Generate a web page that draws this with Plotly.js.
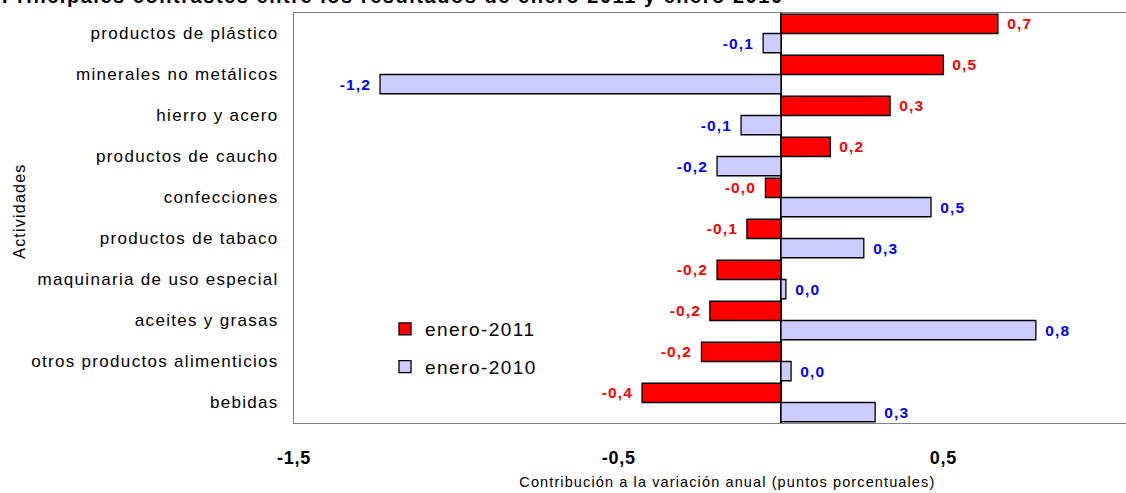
<!DOCTYPE html>
<html>
<head>
<meta charset="utf-8">
<script src="https://cdn.plot.ly/plotly-3.0.1.min.js"></script>
<style>
  html, body { margin: 0; padding: 0; background: #fff; }
  #chart { width: 1126px; height: 493px; }
  #chart text { letter-spacing: 0.077em; }
  #chart .xtick text { letter-spacing: 0.04em; }
  #chart .legend .scrollbox { clip-path: none !important; }
</style>
</head>
<body>
<div id="chart"></div>
<script>
// ---- data ----
const categories = [
  'productos de plástico',
  'minerales no metálicos',
  'hierro y acero',
  'productos de caucho',
  'confecciones',
  'productos de tabaco',
  'maquinaria de uso especial',
  'aceites y grasas',
  'otros productos alimenticios',
  'bebidas'
];
const enero2011 = [0.668, 0.50, 0.336, 0.152, -0.048, -0.105, -0.197, -0.219, -0.245, -0.428];
const enero2010 = [-0.055, -1.235, -0.123, -0.197, 0.462, 0.255, 0.015, 0.785, 0.031, 0.29];
const seriesNames = ['enero-2011', 'enero-2010'];
const xTickVals = [-1.5, -0.5, 0.5];
const xTickText = ['-1,5', '-0,5', '0,5'];
const titleText = 'Principales contrastes entre los resultados de enero 2011 y enero 2010';
const xTitle = 'Contribución a la variación anual (puntos porcentuales)';
const yTitle = 'Actividades';

// ---- styling ----
const FONT = 'Liberation Sans, Arial, sans-serif';
const RED = '#ff0000', LAV = '#ccccff', BLUE = '#0000ff', GRAY = '#808080';
const W = 1126, H = 493;
const M = {l: 294, r: 0, t: 13, b: 70};
const plotW = W - M.l - M.r, plotH = H - M.t - M.b;
const xRange = [-1.5, 1.0626];
const bargap = 0.06;
const px2paperX = p => (p - M.l) / plotW;
const px2paperY = p => (H - M.b - p) / plotH;
const fmt = v => v.toFixed(1).replace('.', ',');

const traces = [
  {type: 'bar', orientation: 'h', name: seriesNames[0], y: categories, x: enero2011,
   legendgroup: 'a', hoverinfo: 'skip',
   marker: {color: RED, line: {color: '#000', width: 1.3}}},
  {type: 'bar', orientation: 'h', name: seriesNames[1], y: categories, x: enero2010,
   legendgroup: 'b', hoverinfo: 'skip',
   marker: {color: LAV, line: {color: '#000', width: 1.3}}}
];

// half bar thickness in px for label vertical placement
const catPx = plotH / categories.length;
const barShift = catPx * (1 - bargap) / 4;

const annotations = [];
function addLabels(vals, color, sign) {
  vals.forEach((v, i) => {
    annotations.push({
      x: v, y: i, xref: 'x', yref: 'y', showarrow: false,
      text: fmt(v),
      xanchor: v < 0 ? 'right' : 'left',
      yanchor: 'middle',
      xshift: v < 0 ? -9 : 9,
      yshift: sign * barShift,
      font: {family: FONT, size: 15.5, color: color, weight: 'bold'}
    });
  });
}
addLabels(enero2011, RED, 1);
addLabels(enero2010, BLUE, -1);

annotations.push({
  text: titleText, xref: 'paper', yref: 'paper',
  x: px2paperX(393), y: 1, xanchor: 'center', yanchor: 'bottom', yshift: 3.5,
  showarrow: false, font: {family: FONT, size: 20, color: '#000', weight: 'bold'}
});
annotations.push({
  text: yTitle, xref: 'paper', yref: 'paper', textangle: -90,
  x: px2paperX(19), y: px2paperY(211), xanchor: 'center', yanchor: 'middle',
  showarrow: false, font: {family: FONT, size: 16, color: '#000'}
});
annotations.push({
  text: xTitle, xref: 'paper', yref: 'paper',
  x: px2paperX(727), y: px2paperY(482), xanchor: 'center', yanchor: 'middle',
  showarrow: false, font: {family: FONT, size: 14.5, color: '#000'}
});

const zeroFrac = (0 - xRange[0]) / (xRange[1] - xRange[0]);
const boundaries = categories.map((c, i) => i + 0.5);

const layout = {
  width: W, height: H,
  margin: {l: M.l, r: M.r, t: M.t, b: M.b, pad: 0},
  paper_bgcolor: '#fff', plot_bgcolor: '#fff',
  barmode: 'group', bargap: bargap, bargroupgap: 0,
  separators: ',.',
  showlegend: true,
  legend: {
    x: px2paperX(385), xanchor: 'left',
    y: px2paperY(310), yanchor: 'top',
    font: {family: FONT, size: 19, color: '#000'},
    traceorder: 'grouped', tracegroupgap: 10,
    bgcolor: 'rgba(0,0,0,0)', borderwidth: 0
  },
  xaxis: {
    range: xRange, tickmode: 'array', tickvals: xTickVals, ticktext: xTickText,
    ticks: '', showgrid: false,
    showline: true, mirror: true, linecolor: GRAY, linewidth: 1,
    zeroline: true, zerolinecolor: '#000', zerolinewidth: 1.5,
    tickfont: {family: FONT, size: 18, color: '#000', weight: 'bold'},
    ticklabelstandoff: 18, fixedrange: true
  },
  xaxis2: {
    overlaying: 'x', side: 'top', anchor: 'y', range: xRange,
    tickmode: 'array', tickvals: xTickVals,
    ticks: 'outside', ticklen: 6, tickcolor: GRAY, tickwidth: 1,
    showticklabels: false, showgrid: false, showline: false, zeroline: false
  },
  yaxis: {
    type: 'category', categoryorder: 'array', categoryarray: categories,
    autorange: 'reversed', showgrid: false, zeroline: false,
    showline: true, linecolor: GRAY, linewidth: 1, ticks: '',
    tickfont: {family: FONT, size: 17, color: '#000'},
    ticklabelstandoff: 11, fixedrange: true
  },
  yaxis2: {
    overlaying: 'y', anchor: 'free', position: zeroFrac, side: 'left',
    range: [categories.length - 0.5, -0.5],
    tickmode: 'array', tickvals: boundaries,
    ticks: 'outside', ticklen: 5, tickcolor: GRAY, tickwidth: 1,
    showticklabels: false, showgrid: false, showline: false, zeroline: false
  },
  annotations: annotations
};

Plotly.newPlot('chart', traces, layout, {staticPlot: true, displayModeBar: false});
</script>
</body>
</html>
